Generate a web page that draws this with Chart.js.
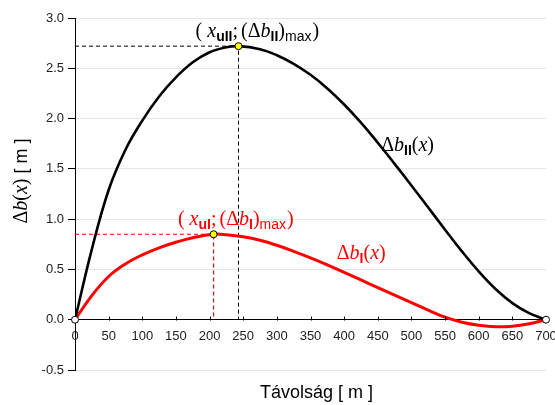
<!DOCTYPE html>
<html>
<head>
<meta charset="utf-8">
<script src="https://cdn.jsdelivr.net/npm/chart.js@4"></script>
<style>
  html, body { margin: 0; padding: 0; background: #fff; }
  #wrap { width: 555px; height: 405px; }
</style>
</head>
<body>
<div id="wrap"><canvas id="chartDb"></canvas></div>
<script>
// Δb_II(x) - fekete görbe
const xII = [0, 25, 50, 75, 100, 125, 150, 175, 200, 225, 243, 275, 300, 325, 350, 375, 400, 425, 450, 475, 500, 525, 550, 575, 600, 625, 650, 675, 700];
const dbII = [0, 0.70, 1.29, 1.69, 1.98, 2.22, 2.41, 2.56, 2.66, 2.71, 2.72, 2.69, 2.63, 2.545, 2.435, 2.30, 2.14, 1.96, 1.76, 1.55, 1.335, 1.115, 0.895, 0.68, 0.48, 0.305, 0.165, 0.065, 0];

// Δb_I(x) - piros görbe
const xI = [0, 25, 50, 75, 100, 125, 150, 175, 206, 225, 250, 275, 300, 325, 350, 375, 400, 425, 450, 475, 500, 525, 550, 575, 600, 625, 650, 675, 700];
const dbI = [0, 0.24, 0.43, 0.555, 0.645, 0.715, 0.77, 0.815, 0.85, 0.845, 0.825, 0.79, 0.74, 0.68, 0.615, 0.545, 0.47, 0.395, 0.32, 0.245, 0.17, 0.095, 0.025, -0.025, -0.055, -0.07, -0.065, -0.04, 0];

// maximumok
const maxII = { x: 243, y: 2.72 };
const maxI = { x: 206, y: 0.85 };
const vegpontok = [{ x: 0, y: 0 }, { x: 700, y: 0 }];

const xTicks = { min: 0, max: 700, step: 50 };
const yTicks = { min: -0.5, max: 3.0, step: 0.5 };

const SERIF = "'Liberation Serif', 'Times New Roman', serif";
const SANS = "'Liberation Sans', Arial, sans-serif";

function pontok(xs, ys) {
    return xs.map((x, i) => ({ x: x, y: ys[i] }));
}

// több betűtípusú szöveg kiírása
function irSzoveg(ctx, x, y, parts, color, align) {
    ctx.save();
    ctx.fillStyle = color;
    ctx.textBaseline = "alphabetic";
    ctx.textAlign = "left";
    let w = 0;
    parts.forEach(p => {
        ctx.font = p.f;
        w += ctx.measureText(p.t).width + (p.g || 0);
    });
    let cx = align === "center" ? x - w / 2 : x;
    parts.forEach(p => {
        ctx.font = p.f;
        cx += (p.g || 0);
        ctx.fillText(p.t, cx, y + (p.dy || 0));
        cx += ctx.measureText(p.t).width;
    });
    ctx.restore();
}

const S20 = "20px " + SERIF;
const I20 = "italic 20px " + SERIF;
const B14 = "bold 14px " + SANS;
const N14 = "14px " + SANS;

const feliratok = {
    id: "feliratok",
    afterDraw(chart) {
        const ctx = chart.ctx;
        const xs = chart.scales.x;
        const ys = chart.scales.y;
        const area = chart.chartArea;

        // x tengely kis osztásai (befelé)
        ctx.save();
        ctx.strokeStyle = "#000";
        ctx.lineWidth = 1;
        const y0 = Math.round(ys.getPixelForValue(0)) + 0.5;
        xs.ticks.forEach(t => {
            if (t.value === 0 || t.value === 700) return;
            const px = Math.round(xs.getPixelForValue(t.value)) + 0.5;
            ctx.beginPath();
            ctx.moveTo(px, y0);
            ctx.lineTo(px, y0 - 4);
            ctx.stroke();
        });
        ctx.restore();

        // (x_uII; (Δb_II)max)
        irSzoveg(ctx, xs.getPixelForValue(271), ys.getPixelForValue(2.816), [
            { t: "(", f: S20 },
            { t: "x", f: I20, g: 5 },
            { t: "uII", f: B14, dy: 4 },
            { t: ";", f: S20 },
            { t: "(", f: S20, g: 3 },
            { t: "Δ", f: S20 },
            { t: "b", f: I20 },
            { t: "II", f: B14, dy: 4 },
            { t: ")", f: S20 },
            { t: "max", f: N14, dy: 4 },
            { t: ")", f: S20, g: 1 }
        ], "#000", "center");

        // Δb_II(x)
        irSzoveg(ctx, xs.getPixelForValue(455), ys.getPixelForValue(1.68), [
            { t: "Δ", f: S20 },
            { t: "b", f: I20 },
            { t: "II", f: B14, dy: 4 },
            { t: "(", f: S20 },
            { t: "x", f: I20 },
            { t: ")", f: S20 }
        ], "#000", "left");

        // (x_uI; (Δb_I)max)
        irSzoveg(ctx, xs.getPixelForValue(239), ys.getPixelForValue(0.937), [
            { t: "(", f: S20 },
            { t: "x", f: I20, g: 5 },
            { t: "uI", f: B14, dy: 4 },
            { t: ";", f: S20 },
            { t: "(", f: S20, g: 3 },
            { t: "Δ", f: S20 },
            { t: "b", f: I20 },
            { t: "I", f: B14, dy: 4 },
            { t: ")", f: S20 },
            { t: "max", f: N14, dy: 4 },
            { t: ")", f: S20, g: 1 }
        ], "#ff0000", "center");

        // Δb_I(x)
        irSzoveg(ctx, xs.getPixelForValue(389), ys.getPixelForValue(0.60), [
            { t: "Δ", f: S20 },
            { t: "b", f: I20 },
            { t: "I", f: B14, dy: 4 },
            { t: "(", f: S20 },
            { t: "x", f: I20 },
            { t: ")", f: S20 }
        ], "#ff0000", "left");

        // tengelycímek
        irSzoveg(ctx, (area.left + area.right) / 2 + 6, chart.height - 7, [
            { t: "Távolság [ m ]", f: "18px " + SANS }
        ], "#000", "center");

        ctx.save();
        ctx.translate(27, (area.top + area.bottom) / 2 - 13);
        ctx.rotate(-Math.PI / 2);
        irSzoveg(ctx, 0, 0, [
            { t: "Δ", f: S20 },
            { t: "b", f: I20 },
            { t: "(", f: S20 },
            { t: "x", f: I20 },
            { t: ")", f: S20 },
            { t: " [ m ]", f: "18px " + SANS }
        ], "#000", "center");
        ctx.restore();
    }
};

const ctx = document.getElementById("chartDb");

new Chart(ctx, {
    type: "scatter",
    data: {
        datasets: [
            {
                label: "max",
                data: [maxII, maxI],
                showLine: false,
                clip: false,
                pointRadius: 3.5,
                pointBackgroundColor: "#ffff00",
                pointBorderColor: "#000",
                pointBorderWidth: 1
            },
            {
                label: "végpontok",
                data: vegpontok,
                showLine: false,
                clip: false,
                pointRadius: 3.5,
                pointBackgroundColor: "#fff",
                pointBorderColor: "#000",
                pointBorderWidth: 1
            },
            {
                label: "Δb_II(x)",
                data: pontok(xII, dbII),
                showLine: true,
                borderColor: "#000",
                borderWidth: 2.6,
                pointRadius: 0,
                tension: 0.4
            },
            {
                label: "Δb_I(x)",
                data: pontok(xI, dbI),
                showLine: true,
                borderColor: "#ff0000",
                borderWidth: 3,
                pointRadius: 0,
                tension: 0.4
            },
            {
                label: "segéd II",
                data: [{ x: 0, y: maxII.y }, { x: maxII.x, y: maxII.y }, { x: maxII.x, y: 0 }],
                showLine: true,
                borderColor: "#000",
                borderWidth: 1,
                borderDash: [4, 3],
                pointRadius: 0
            },
            {
                label: "segéd I",
                data: [{ x: 0, y: maxI.y }, { x: maxI.x, y: maxI.y }, { x: maxI.x, y: 0 }],
                showLine: true,
                borderColor: "#ff0000",
                borderWidth: 1.2,
                borderDash: [4, 3],
                pointRadius: 0
            }
        ]
    },
    options: {
        responsive: true,
        maintainAspectRatio: false,
        animation: false,
        layout: { padding: { top: 18, right: 9, bottom: 35, left: 0 } },
        plugins: {
            legend: { display: false },
            tooltip: { enabled: false }
        },
        scales: {
            x: {
                type: "linear",
                position: { y: 0 },
                min: xTicks.min,
                max: xTicks.max,
                ticks: {
                    stepSize: xTicks.step,
                    padding: 9,
                    color: "#222",
                    font: { family: SANS, size: 13 }
                },
                grid: { display: true, drawOnChartArea: false, drawTicks: false },
                border: { color: "#000", width: 1 },
                afterFit: s => { s.paddingLeft = 0; s.paddingRight = 0; }
            },
            y: {
                min: yTicks.min,
                max: yTicks.max,
                ticks: {
                    stepSize: yTicks.step,
                    padding: 4,
                    color: "#222",
                    font: { family: SANS, size: 13 },
                    callback: v => v.toFixed(1)
                },
                grid: { color: "#e6e6e6", tickColor: "#000", tickLength: 7 },
                border: { color: "#000", width: 1 },
                afterFit: s => { s.width = 75; s.paddingTop = 0; s.paddingBottom = 0; }
            }
        }
    },
    plugins: [feliratok]
});
</script>
</body>
</html>
